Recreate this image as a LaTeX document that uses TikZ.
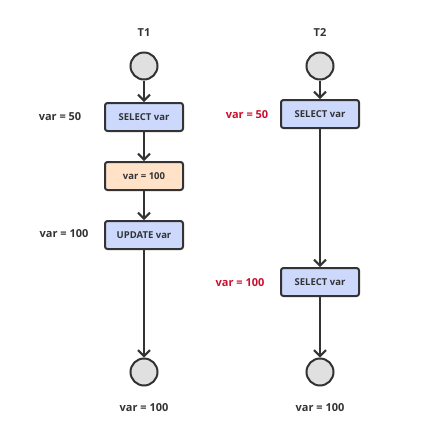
\documentclass[tikz,border=0pt]{standalone}
\usepackage{fontspec}
\setmainfont{Open Sans}
\usetikzlibrary{arrows.meta,positioning}

\definecolor{linegray}{HTML}{333333}
\definecolor{stepblue}{HTML}{CCD9FC}
\definecolor{steporange}{HTML}{FFE2C8}
\definecolor{endgray}{HTML}{E0E0E0}
\definecolor{valred}{HTML}{C8102E}

\tikzset{
  opbox/.style={draw=linegray,line width=2pt,rounded corners=2.5pt,fill=stepblue,
    minimum width=78pt,minimum height=28pt,inner sep=0pt,font=\fontsize{9.5}{11}\selectfont\bfseries,text=linegray},
  endpt/.style={circle,draw=linegray,line width=2pt,fill=endgray,minimum size=27pt,inner sep=0pt},
  vallabel/.style={font=\fontsize{11}{13}\selectfont\bfseries,text=linegray},
  flow/.style={draw=linegray,line width=2pt,-{Straight Barb[length=6pt,width=12pt,line width=2pt]}}
}

\begin{document}
\begin{tikzpicture}[x=1pt,y=-1pt]
      \useasboundingbox (0,0) rectangle (434,437);
      % T1 column
      \node[vallabel] (t1) at (144,33) {T1};
      \node[endpt] (s1) at (144,66) {};
      \node[opbox] (sel1) at (144,117) {SELECT var};
      \node[opbox,fill=steporange] (set1) at (144,176) {var = 100};
      \node[opbox] (upd1) at (144,235) {UPDATE var};
      \node[endpt] (e1) at (144,372) {};
      \draw[flow] (s1) -- (sel1);
      \draw[flow] (sel1) -- (set1);
      \draw[flow] (set1) -- (upd1);
      \draw[flow] (upd1) -- (e1);

      % T2 column
      \node[vallabel] (t2) at (320,33) {T2};
      \node[endpt] (s2) at (320,66) {};
      \node[opbox] (sel2) at (320,114) {SELECT var};
      \node[opbox] (sel3) at (320,282) {SELECT var};
      \node[endpt] (e2) at (320,372) {};
      \draw[flow] (s2) -- (sel2);
      \draw[flow] (sel2) -- (sel3);
      \draw[flow] (sel3) -- (e2);

      % values seen
      \node[vallabel] (v1) at (60,117) {var = 50};
      \node[vallabel] (v2) at (64,234) {var = 100};
      \node[vallabel,text=valred] (v3) at (247,115) {var = 50};
      \node[vallabel,text=valred] (v4) at (240,283) {var = 100};
      \node[vallabel] (r1) at (144,408) {var = 100};
      \node[vallabel] (r2) at (320,408) {var = 100};
    \end{tikzpicture}
\end{document}
